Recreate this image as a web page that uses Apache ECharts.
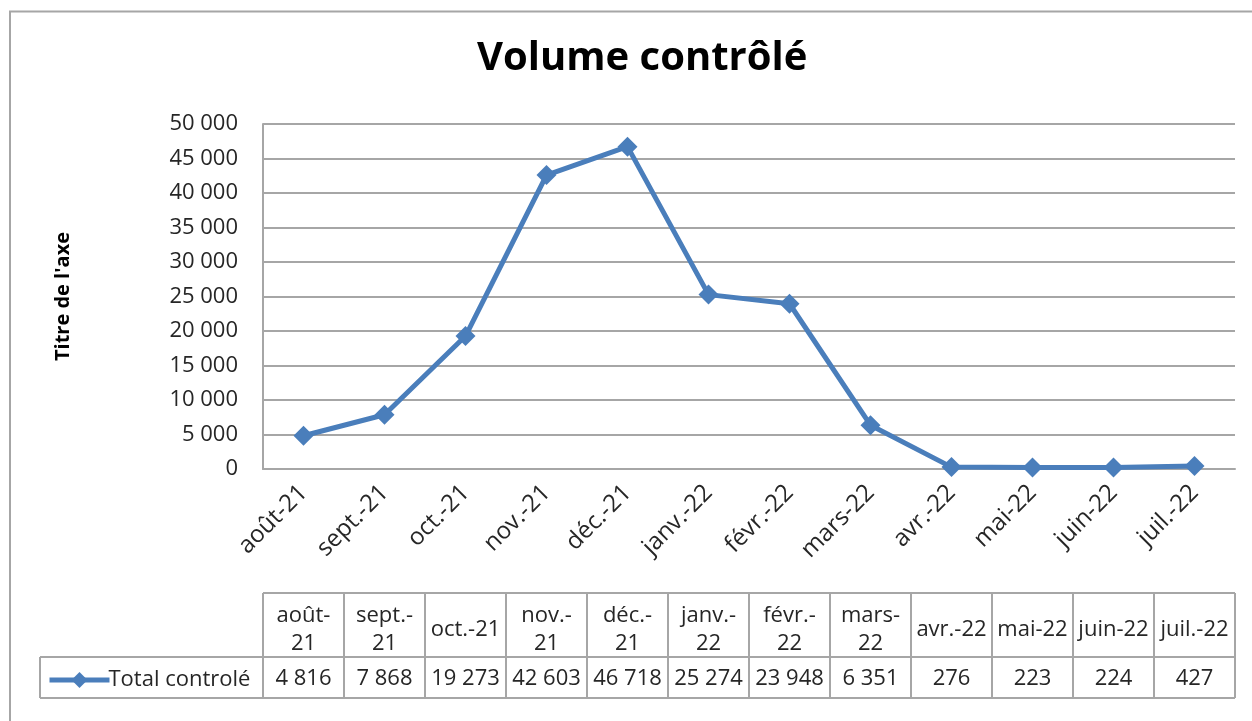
<!DOCTYPE html>
<html>
<head>
<meta charset="utf-8">
<script src="https://cdn.jsdelivr.net/npm/echarts@6/dist/echarts.min.js"></script>
<style>
  html, body { margin: 0; padding: 0; background: #fff; }
  #chart { width: 1252px; height: 721px; }
</style>
</head>
<body>
<div id="chart"></div>
<script>
  const categories = ['août-21', 'sept.-21', 'oct.-21', 'nov.-21', 'déc.-21', 'janv.-22',
    'févr.-22', 'mars-22', 'avr.-22', 'mai-22', 'juin-22', 'juil.-22']
  // same months, as they wrap in the data table cells
  const tableHeaders = ['août-\n21', 'sept.-\n21', 'oct.-21', 'nov.-\n21', 'déc.-\n21', 'janv.-\n22',
    'févr.-\n22', 'mars-\n22', 'avr.-22', 'mai-22', 'juin-22', 'juil.-22']
  const totalControle = [4816, 7868, 19273, 42603, 46718, 25274, 23948, 6351, 276, 223, 224, 427]
  const seriesName = 'Total controlé'

  const font = 'Open Sans'
  const blue = '#4a7ebb'
  const gray = '#a6a6a6'
  const textColor = '#262626'
  const fs = 22

  // 12 345 -> "12 345"
  const fmt = v => String(v).replace(/\B(?=(\d{3})+(?!\d))/g, ' ')

  const chart = echarts.init(document.getElementById('chart'))

  chart.setOption({
    animation: false,
    textStyle: { fontFamily: font },
    title: {
      text: 'Volume contrôlé',
      left: 472,
      top: 34,
      textStyle: { fontSize: 40, fontWeight: 'bold', color: '#000', fontFamily: font }
    },
    grid: { left: 263, right: 17, top: 124, bottom: 252 },
    legend: {
      left: 42,
      top: 664,
      itemWidth: 60,
      itemHeight: 20,
      itemGap: 0,
      lineStyle: { width: 5 },
      textStyle: { fontSize: fs, color: textColor, fontFamily: font, padding: [0, 0, 0, -6] },
      data: [seriesName]
    },
    xAxis: {
      type: 'category',
      data: categories,
      boundaryGap: true,
      axisLine: { lineStyle: { color: gray, width: 2 } },
      axisTick: { show: false },
      axisLabel: {
        interval: 0,
        rotate: 45,
        margin: 20,
        fontSize: 24,
        color: textColor,
        fontFamily: font
      }
    },
    yAxis: {
      type: 'value',
      min: 0,
      max: 50000,
      interval: 5000,
      name: "Titre de l'axe",
      nameLocation: 'middle',
      nameRotate: 90,
      nameGap: 190,
      nameTextStyle: { fontSize: 20, fontWeight: 'bold', color: '#000', fontFamily: font },
      axisLine: { show: true, lineStyle: { color: gray, width: 2 } },
      axisTick: { show: false },
      splitLine: { lineStyle: { color: gray, width: 2 } },
      axisLabel: { formatter: fmt, margin: 25, fontSize: fs, color: textColor, fontFamily: font }
    },
    series: [{
      name: seriesName,
      type: 'line',
      data: totalControle,
      symbol: 'diamond',
      symbolSize: 20,
      lineStyle: { color: blue, width: 5 },
      itemStyle: { color: blue }
    }]
  })

  // data table under the plot, columns aligned on the category axis
  const half = (chart.convertToPixel({ xAxisIndex: 0 }, 1) - chart.convertToPixel({ xAxisIndex: 0 }, 0)) / 2
  const rowTop = 593, rowMid = 657, rowBottom = 698, legendLeft = 40
  const elems = []
  const line = (x1, y1, x2, y2) => elems.push({
    type: 'line', shape: { x1, y1, x2, y2 }, style: { stroke: gray, lineWidth: 2 }
  })
  const text = (x, y, t) => elems.push({
    type: 'text', x, y,
    style: { text: t, fontSize: fs, lineHeight: 28, fill: textColor, fontFamily: font, align: 'center', verticalAlign: 'middle' }
  })
  const x0 = chart.convertToPixel({ xAxisIndex: 0 }, 0) - half
  const xEnd = chart.convertToPixel({ xAxisIndex: 0 }, categories.length - 1) + half
  line(x0, rowTop, xEnd, rowTop)
  line(legendLeft, rowMid, xEnd, rowMid)
  line(legendLeft, rowBottom, xEnd, rowBottom)
  line(legendLeft, rowMid, legendLeft, rowBottom)
  categories.forEach((c, i) => {
    const cx = chart.convertToPixel({ xAxisIndex: 0 }, i)
    line(cx - half, rowTop, cx - half, rowBottom)
    text(cx, (rowTop + rowMid) / 2 + 5, tableHeaders[i])
    text(cx, (rowMid + rowBottom) / 2 + 1, fmt(totalControle[i]))
  })
  line(xEnd, rowTop, xEnd, rowBottom)

  // chart frame
  elems.push({
    type: 'rect', shape: { x: 10, y: 11.5, width: 1400, height: 900 },
    style: { fill: 'none', stroke: gray, lineWidth: 2 }
  })

  chart.setOption({ graphic: elems })
</script>
</body>
</html>
